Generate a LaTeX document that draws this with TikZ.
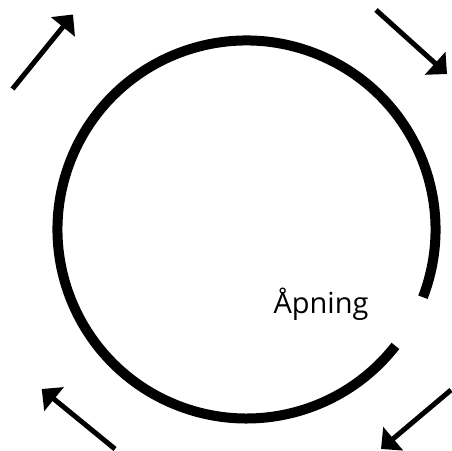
\documentclass[tikz,border=0pt]{standalone}
\usepackage{fontspec}
\setmainfont{Open Sans}
\usetikzlibrary{arrows.meta}

\begin{document}
\begin{tikzpicture}[
  x=1pt, y=1pt,
  ring/.style={line width=10pt},
  flow/.style={-{Triangle[length=16pt, width=30pt]}, line width=5pt},
  gaptext/.style={font=\fontsize{29}{34}\selectfont, anchor=base, inner sep=0pt}
]
\useasboundingbox (0,0) rectangle (452,450);

% ring with the opening at lower right
\coordinate (c) at (246.5,220.5);
\draw[ring] ([shift={(-21:189)}]c) arc[start angle=-21, end angle=322, radius=189];

\node[gaptext] (apning) at (321,137) {Åpning};

% flow arrows round the ring
\coordinate (tlTail) at (12.5,361);
\coordinate (tlTip)  at (73,435.5);
\coordinate (trTail) at (376,440);
\coordinate (trTip)  at (447,376);
\coordinate (brTail) at (451,60);
\coordinate (brTip)  at (381,1);
\coordinate (blTail) at (115,1);
\coordinate (blTip)  at (41.7,61);

\draw[flow] (tlTail) -- (tlTip);
\draw[flow] (trTail) -- (trTip);
\draw[flow] (brTail) -- (brTip);
\draw[flow] (blTail) -- (blTip);
\end{tikzpicture}
\end{document}
